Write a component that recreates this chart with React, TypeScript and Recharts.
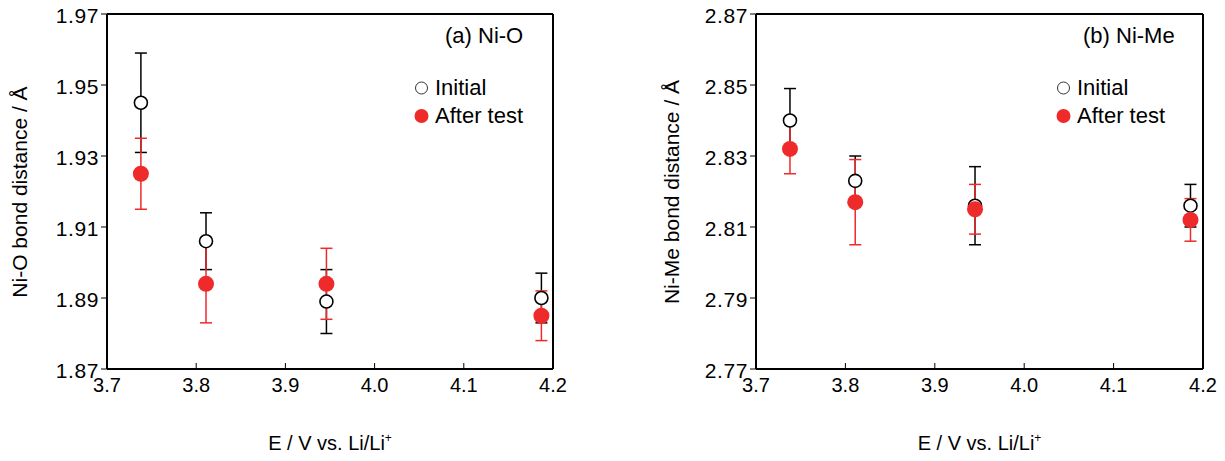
import React from 'react';
import {
  ScatterChart,
  Scatter,
  XAxis,
  YAxis,
  ErrorBar,
  ReferenceLine,
} from 'recharts';

// Potentials (V vs. Li/Li+)
const voltageNiO = [3.738, 3.811, 3.946, 4.187];
const voltageNiMe = [3.738, 3.811, 3.945, 4.186];

// (a) Ni-O bond distance
const niOInitial = [1.945, 1.906, 1.889, 1.89];
const niOInitialLow = [1.931, 1.898, 1.88, 1.883];
const niOInitialHigh = [1.959, 1.914, 1.898, 1.897];
const niOAfter = [1.925, 1.894, 1.894, 1.885];
const niOAfterLow = [1.915, 1.883, 1.884, 1.878];
const niOAfterHigh = [1.935, 1.905, 1.904, 1.892];

// (b) Ni-Me bond distance
const niMeInitial = [2.84, 2.823, 2.816, 2.816];
const niMeInitialLow = [2.831, 2.816, 2.805, 2.81];
const niMeInitialHigh = [2.849, 2.83, 2.827, 2.822];
const niMeAfter = [2.832, 2.817, 2.815, 2.812];
const niMeAfterLow = [2.825, 2.805, 2.808, 2.806];
const niMeAfterHigh = [2.839, 2.829, 2.822, 2.818];

const xTicks = [3.7, 3.8, 3.9, 4.0, 4.1, 4.2];
const niOTicks = [1.87, 1.89, 1.91, 1.93, 1.95, 1.97];
const niMeTicks = [2.77, 2.79, 2.81, 2.83, 2.85, 2.87];

const RED = '#ee2a2a';
const FONT = '"Liberation Sans", Arial, sans-serif';

const toPoints = (xs: number[], ys: number[], lo: number[], hi: number[]) =>
  xs.map((x, i) => ({ x, y: ys[i], err: [ys[i] - lo[i], hi[i] - ys[i]] }));

const OpenCircle = (props: any) => (
  <circle cx={props.cx} cy={props.cy} r={6.5} fill="#fff" stroke="#000" strokeWidth={1.6} />
);
const RedDot = (props: any) => <circle cx={props.cx} cy={props.cy} r={8} fill={RED} />;

// x ticks point inward (up), labels below the axis
const InnerXTick = (props: any) => {
  const { x, y, payload } = props;
  return (
    <g>
      <line x1={x} y1={y} x2={x} y2={y - 6} stroke="#000" strokeWidth={1} />
      <text x={x} y={y + 23} textAnchor="middle" fontSize={20} fontFamily={FONT} fill="#000">
        {payload.value.toFixed(1)}
      </text>
    </g>
  );
};

interface PanelProps {
  left: number;
  width: number;
  marginLeft: number;
  marginRight: number;
  ticks: number[];
  initial: { x: number; y: number; err: number[] }[];
  after: { x: number; y: number; err: number[] }[];
  title: string;
  yLabel: string;
  titleX: number;
  legendX: number;
  yLabelX: number;
}

const Panel: React.FC<PanelProps> = (p) => {
  const [yMin, yMax] = [p.ticks[0], p.ticks[p.ticks.length - 1]];
  const plotLeft = p.marginLeft + 60;
  const plotRight = p.width - p.marginRight;
  return (
    <div style={{ position: 'absolute', left: p.left, top: 0, width: p.width, height: 461, fontFamily: FONT }}>
      <ScatterChart
        width={p.width}
        height={461}
        margin={{ top: 14, right: p.marginRight, bottom: 62, left: p.marginLeft }}
      >
        <XAxis
          type="number"
          dataKey="x"
          domain={[3.7, 4.2]}
          ticks={xTicks}
          interval={0}
          tickSize={0}
          tickMargin={0}
          tick={<InnerXTick />}
          axisLine={{ stroke: '#000', strokeWidth: 2 }}
          height={30}
          allowDataOverflow
        />
        <YAxis
          type="number"
          dataKey="y"
          domain={[yMin, yMax]}
          ticks={p.ticks}
          interval={0}
          tickSize={6}
          tickMargin={2}
          width={60}
          tickLine={{ stroke: '#000' }}
          axisLine={{ stroke: '#000', strokeWidth: 2 }}
          tick={{ fill: '#000', fontSize: 21, fontFamily: FONT, dy: 2, letterSpacing: 0.6 }}
          tickFormatter={(v: number) => v.toFixed(2)}
          allowDataOverflow
        />
        <ReferenceLine y={yMax} stroke="#000" strokeWidth={2} />
        <ReferenceLine x={4.2} stroke="#000" strokeWidth={2} />
        <Scatter name="Initial" data={p.initial} shape={OpenCircle} isAnimationActive={false}>
          <ErrorBar dataKey="err" direction="y" width={6} stroke="#000" strokeWidth={1.5} />
        </Scatter>
        <Scatter name="After test" data={p.after} shape={RedDot} isAnimationActive={false}>
          <ErrorBar dataKey="err" direction="y" width={6} stroke={RED} strokeWidth={1.5} />
        </Scatter>
      </ScatterChart>

      <div style={{ position: 'absolute', left: p.titleX, top: 23, fontSize: 22, whiteSpace: 'nowrap' }}>
        {p.title}
      </div>
      <div style={{ position: 'absolute', left: p.legendX, top: 74, fontSize: 22, lineHeight: '28px' }}>
        <div style={{ display: 'flex', alignItems: 'center' }}>
          <svg width={15} height={16} style={{ marginRight: 6 }}>
            <circle cx={7.5} cy={8} r={6} fill="#fff" stroke="#333" strokeWidth={1} />
          </svg>
          Initial
        </div>
        <div style={{ display: 'flex', alignItems: 'center' }}>
          <svg width={15} height={16} style={{ marginRight: 6 }}>
            <circle cx={7.5} cy={8} r={7} fill={RED} />
          </svg>
          After test
        </div>
      </div>
      <div
        style={{
          position: 'absolute',
          left: p.yLabelX,
          top: 192,
          fontSize: 21,
          whiteSpace: 'nowrap',
          transform: 'translate(-50%, -50%) rotate(-90deg)',
        }}
      >
        {p.yLabel}
      </div>
      <div
        style={{
          position: 'absolute',
          left: (plotLeft + plotRight) / 2,
          top: 443,
          fontSize: 20,
          whiteSpace: 'nowrap',
          transform: 'translate(-50%, -50%)',
        }}
      >
        E / V vs. Li/Li<sup style={{ fontSize: 12 }}>+</sup>
      </div>
    </div>
  );
};

export default function App() {
  return (
    <div style={{ position: 'absolute', left: 0, top: 0, width: 1225, height: 461, background: '#fff' }}>
      <Panel
        left={0}
        width={612}
        marginLeft={47}
        marginRight={59}
        ticks={niOTicks}
        initial={toPoints(voltageNiO, niOInitial, niOInitialLow, niOInitialHigh)}
        after={toPoints(voltageNiO, niOAfter, niOAfterLow, niOAfterHigh)}
        title="(a) Ni-O"
        yLabel="Ni-O bond distance / Å"
        titleX={445}
        legendX={414}
        yLabelX={20}
      />
      <Panel
        left={612}
        width={613}
        marginLeft={84}
        marginRight={22}
        ticks={niMeTicks}
        initial={toPoints(voltageNiMe, niMeInitial, niMeInitialLow, niMeInitialHigh)}
        after={toPoints(voltageNiMe, niMeAfter, niMeAfterLow, niMeAfterHigh)}
        title="(b) Ni-Me"
        yLabel="Ni-Me bond distance / Å"
        titleX={471}
        legendX={444}
        yLabelX={60}
      />
    </div>
  );
}
